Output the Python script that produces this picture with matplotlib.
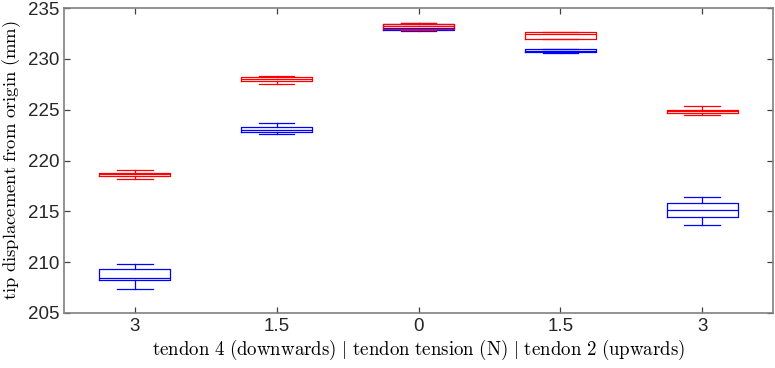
import numpy as np
import matplotlib
matplotlib.use('Agg')
import matplotlib.pyplot as plt

matplotlib.rcParams['mathtext.fontset'] = 'cm'

ticklabels = ['3', '1.5', '0', '1.5', '3']

# red series
red_med = [218.7, 228.0, 233.2, 232.5, 224.9]
red_q1 = [218.5, 227.8, 232.9, 232.0, 224.7]
red_q3 = [218.8, 228.2, 233.4, 232.6, 225.0]
red_lo = [218.2, 227.5, 232.8, 232.0, 224.5]
red_hi = [219.1, 228.3, 233.5, 232.6, 225.4]

# blue series
blue_med = [208.4, 223.0, 233.0, 230.8, 215.1]
blue_q1 = [208.2, 222.8, 232.8, 230.7, 214.4]
blue_q3 = [209.3, 223.3, 233.4, 231.0, 215.8]
blue_lo = [207.4, 222.6, 232.7, 230.6, 213.7]
blue_hi = [209.8, 223.7, 233.5, 231.0, 216.4]


def stats(med, q1, q3, lo, hi):
    out = []
    for i in range(len(med)):
        out.append({'med': med[i], 'q1': q1[i], 'q3': q3[i],
                    'whislo': lo[i], 'whishi': hi[i], 'fliers': []})
    return out


fig = plt.figure(figsize=(7.75, 3.68), dpi=100)
ax = fig.add_axes([0.0826, 0.1495, 0.9148, 0.8285])

pos = np.arange(1, 6)
for st, col in [(stats(blue_med, blue_q1, blue_q3, blue_lo, blue_hi), '#0000FF'),
                (stats(red_med, red_q1, red_q3, red_lo, red_hi), '#FF0000')]:
    lp = dict(color=col, linewidth=0.9)
    ax.bxp(st, positions=pos, widths=0.5, showfliers=False,
           boxprops=lp, whiskerprops=dict(color=col, linewidth=0.9, linestyle='-'),
           capprops=lp, medianprops=lp, capwidths=0.25)

ax.set_xlim(0.5, 5.5)
ax.set_ylim(205, 235)
ax.set_yticks(np.arange(205, 236, 5))
ax.set_xticks(pos)
ax.set_xticklabels(ticklabels)
for lab in ax.get_xticklabels() + ax.get_yticklabels():
    lab.set_family('Liberation Sans')
    lab.set_fontsize(13.5)
    lab.set_color('#262626')

ax.tick_params(direction='in', top=True, right=True, length=4, width=0.9, color='#404040')
for s in ax.spines.values():
    s.set_color('#808080')
    s.set_linewidth(1.2)

ax.set_xlabel(r'$\mathrm{tendon\ 4\ (downwards)\ |\ tendon\ tension\ (N)\ |\ tendon\ 2\ (upwards)}$',
              fontsize=13.6, labelpad=2)
ax.set_ylabel(r'$\mathrm{tip\ displacement\ from\ origin\ (mm)}$', fontsize=13.4, labelpad=3)

plt.savefig('out.png', dpi=100)
